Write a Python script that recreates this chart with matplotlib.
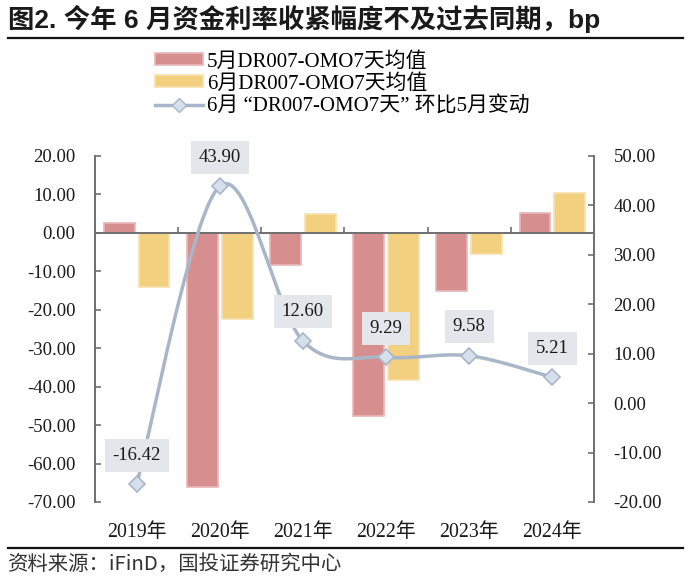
"""
图2 资金利率：5月/6月 DR007-OMO7天均值 与 6月环比变动
"""
import matplotlib
matplotlib.use("Agg")
import matplotlib.pyplot as plt
import numpy as np
from matplotlib.lines import Line2D
from matplotlib.patches import Patch
from matplotlib.ticker import FormatStrFormatter, MultipleLocator
import matplotlib.transforms as mtransforms

years = ["2019年", "2020年", "2021年", "2022年", "2023年", "2024年"]
may_avg = [2.7, -66.0, -8.3, -47.5, -15.0, 5.1]
jun_avg = [-14.0, -22.4, 4.9, -38.2, -5.4, 10.5]
jun_vs_may = [-16.42, 43.90, 12.60, 9.29, 9.58, 5.21]

label_may = "5月DR007-OMO7天均值"
label_jun = "6月DR007-OMO7天均值"
label_chg = "6月 “DR007-OMO7天” 环比5月变动"
title = "图2. 今年 6 月资金利率收紧幅度不及过去同期，bp"
source = "资料来源：iFinD，国投证券研究中心"

RED, RED_EDGE = "#D68F8E", "#E9B7B6"
YEL, YEL_EDGE = "#F2D07F", "#F7E2AE"
LINE, MARK = "#A9B6C9", "#D6E0EC"
AXIS = "#6F6F6F"

SERIF = ["Liberation Serif", "Noto Sans CJK SC"]
plt.rcParams["font.family"] = SERIF
FS = 13.5


def smooth_curve(x, y, steps=40):
    # Excel-style smoothed line: cubic Bezier with control points from neighbours
    x = np.asarray(x, float)
    y = np.asarray(y, float)
    px = np.concatenate([[x[0]], x, [x[-1]]])
    py = np.concatenate([[y[0]], y, [y[-1]]])
    t = np.linspace(0, 1, steps)[:, None]
    out = []
    for i in range(1, len(px) - 2):
        p0 = np.array([px[i], py[i]])
        p3 = np.array([px[i + 1], py[i + 1]])
        c1 = p0 + (np.array([px[i + 1], py[i + 1]]) - np.array([px[i - 1], py[i - 1]])) / 6
        c2 = p3 - (np.array([px[i + 2], py[i + 2]]) - np.array([px[i], py[i]])) / 6
        seg = ((1 - t) ** 3) * p0 + 3 * ((1 - t) ** 2) * t * c1 + 3 * (1 - t) * t ** 2 * c2 + t ** 3 * p3
        out.append(seg)
    seg = np.vstack(out)
    return seg[:, 0], seg[:, 1]


fig = plt.figure(figsize=(7, 5.78), dpi=100)
ax = fig.add_axes([95 / 700, 1 - 502 / 578, (594 - 95) / 700, (502 - 156) / 578])
ax2 = ax.twinx()

x = np.arange(len(years))
w = 0.37
ax.bar(x - 0.21, may_avg, w, color=RED, edgecolor=RED_EDGE, linewidth=1.2, zorder=2)
ax.bar(x + 0.21, jun_avg, w, color=YEL, edgecolor=YEL_EDGE, linewidth=1.2, zorder=2)

sx, sy = smooth_curve(x, jun_vs_may)
ax2.plot(sx, sy, color=LINE, linewidth=2.5, solid_capstyle="round", zorder=3)
ax2.plot(x, jun_vs_may, linestyle="none", marker="D", markersize=8,
         markerfacecolor=MARK, markeredgecolor=LINE, markeredgewidth=1.2, zorder=4)

for xi, v in zip(x, jun_vs_may):
    ax2.annotate(f"{v:.2f}", (xi, v), xytext=(0, 29), textcoords="offset pixels",
                 ha="center", va="center", fontsize=FS, color="#1a1a1a",
                 bbox=dict(boxstyle="square,pad=0.42", facecolor="#E3E6EA", edgecolor="none"),
                 zorder=5)

ax.set_xlim(-0.5, len(years) - 0.5)
ax.set_ylim(-70, 20)
ax2.set_ylim(-20, 50)
ax.yaxis.set_major_locator(MultipleLocator(10))
ax2.yaxis.set_major_locator(MultipleLocator(10))
ax.yaxis.set_major_formatter(FormatStrFormatter("%.2f"))
ax2.yaxis.set_major_formatter(FormatStrFormatter("%.2f"))

for a in (ax, ax2):
    for s in a.spines.values():
        s.set_color(AXIS)
        s.set_linewidth(1.4)
    a.spines["top"].set_visible(False)
ax.spines["right"].set_visible(False)
ax2.spines["left"].set_visible(False)
ax2.spines["bottom"].set_visible(False)
ax.spines["bottom"].set_position(("data", 0))

ax.set_xticks(np.arange(-0.5, len(years), 1.0))
ax.tick_params(axis="x", direction="in", length=4, width=1.2, color=AXIS, labelbottom=False)
ax.tick_params(axis="y", direction="in", length=4, width=1.2, color=AXIS, labelsize=FS,
               labelcolor="#1a1a1a", pad=14)
ax2.tick_params(axis="y", direction="in", length=4, width=1.2, color=AXIS, labelsize=FS,
                labelcolor="#1a1a1a", pad=14)

trans = mtransforms.blended_transform_factory(ax.transData, ax.transAxes)
for xi, lab in zip(x, years):
    ax.text(xi, -0.087, lab, transform=trans, ha="center", va="center",
            fontsize=14.3, color="#1a1a1a")

handles = [
    Patch(facecolor=RED, edgecolor=RED_EDGE, linewidth=1.2),
    Patch(facecolor=YEL, edgecolor=YEL_EDGE, linewidth=1.2),
    Line2D([], [], color=LINE, linewidth=2.5, marker="D", markersize=7,
           markerfacecolor=MARK, markeredgecolor=LINE),
]
fig.legend(handles, [label_may, label_jun, label_chg], loc="upper left",
           bbox_to_anchor=(155 / 700, 1 - 52 / 578), frameon=False, fontsize=15,
           handlelength=2.3, handleheight=0.5, handletextpad=0.2, labelspacing=0.12,
           borderpad=0, borderaxespad=0)

fig.text(8 / 700, 1 - 19 / 578, title, fontsize=19, fontweight="bold",
         family=["Liberation Sans", "Noto Sans CJK SC"], ha="left", va="center", color="#1a1a1a")
fig.add_artist(Line2D([8 / 700, 683 / 700], [1 - 37.5 / 578] * 2, color="#111111", linewidth=1.6))
fig.add_artist(Line2D([8 / 700, 683 / 700], [1 - 548 / 578] * 2, color="#111111", linewidth=1.6))
fig.text(8 / 700, 1 - 564 / 578, source, fontsize=14.7, family=["Noto Sans CJK SC", "DejaVu Sans"],
         ha="left", va="center", color="#333333", style="italic")

fig.savefig("out.png", dpi=100)
